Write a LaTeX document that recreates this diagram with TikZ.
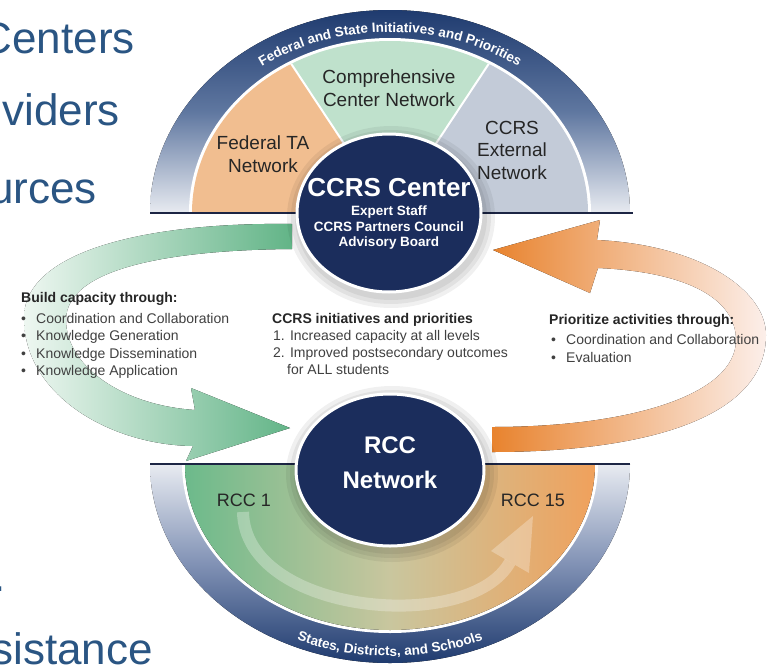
\documentclass[tikz,border=0pt]{standalone}
\usepackage{fontspec}
\setmainfont{Liberation Sans}
\usetikzlibrary{decorations.text}
\definecolor{navy}{HTML}{1B2D5C}
\definecolor{bandtop}{HTML}{1F3B6F}
\definecolor{bandmid}{HTML}{5F77A0}
\definecolor{bandmidb}{HTML}{8192B5}
\definecolor{bandlow}{HTML}{E8EBF1}
\definecolor{secorange}{HTML}{F1BE90}
\definecolor{secgreen}{HTML}{BFE1CC}
\definecolor{secgray}{HTML}{C3CBD8}
\definecolor{slideblue}{HTML}{2A5583}
\definecolor{linecol}{HTML}{1C2544}
\definecolor{arrgreen}{HTML}{62B487}
\definecolor{arrpalegreen}{HTML}{EEF7F1}
\definecolor{arrorange}{HTML}{E8832E}
\definecolor{arrpaleorange}{HTML}{FCEFEA}
\definecolor{rccgreen}{HTML}{6CBA8B}
\definecolor{rcckhaki}{HTML}{C9C69E}
\definecolor{rccorange}{HTML}{F0A15C}
\definecolor{txtdark}{HTML}{262626}
\definecolor{txtgray}{HTML}{404040}
\begin{document}
\begin{tikzpicture}[x=1pt,y=-1pt,
  slidetext/.style={text=slideblue, font=\fontsize{44}{44}\selectfont, inner sep=0pt, anchor=base east},
  seclabel/.style={text=txtdark, font=\fontsize{19}{22.5}\selectfont, align=center, inner sep=0pt},
  head/.style={text=txtdark, font=\bfseries\fontsize{14}{17}\selectfont, inner sep=0pt, anchor=base west},
  item/.style={text=txtgray, font=\fontsize{14}{17}\selectfont, inner sep=0pt, anchor=base west},
  hub/.style={fill=navy, draw=white, line width=3pt},
  hubtext/.style={text=white, inner sep=0pt, align=center},
  glow/.style={fill=black, opacity=0.06},
]
\useasboundingbox (0,0) rectangle (769,667);
\fill[white] (0,0) rectangle (769,667);

% slide text fragments
\node[slidetext] (s1) at (135,53) {Centers};
\node[slidetext] (s2) at (120,125) {viders};
\node[slidetext] (s3) at (97,203) {urces};
\node[slidetext, anchor=base west] (s5) at (-7,591) {.};
\node[slidetext] (s4) at (153,664) {sistance};

% big curved arrows
\fill[left color=arrpalegreen, right color=arrgreen]
  (292,224) .. controls (150,222) and (24,250) .. (24,318)
  .. controls (24,395) and (110,445) .. (193,446)
  -- (186,461) -- (290,428) -- (191,388) -- (195,410)
  .. controls (120,405) and (66,365) .. (66,320)
  .. controls (66,268) and (170,250) .. (292,249) -- cycle;
\fill[left color=arrorange, right color=arrpaleorange]
  (492,452) .. controls (640,452) and (766,420) .. (766,335)
  .. controls (766,290) and (700,245) .. (597,240)
  -- (600,220) -- (493,250) -- (590,293) -- (598,268)
  .. controls (690,272) and (736,300) .. (736,340)
  .. controls (736,395) and (630,427) .. (492,427) -- cycle;

% top half
\fill[top color=bandtop, bottom color=bandlow, middle color=bandmid]
  (150,213) arc[start angle=180, end angle=360, x radius=240, y radius=203] -- cycle;
\fill[white] (189,213) arc[start angle=180, end angle=360, x radius=201, y radius=175] -- cycle;
\begin{scope}
  \clip (192,213) arc[start angle=180, end angle=360, x radius=198, y radius=172] -- cycle;
  \fill[secorange] (390,213) -- (194,-83) -- (-10,-83) -- (-10,220) -- cycle;
  \fill[secgreen] (390,213) -- (194,-83) -- (586,-83) -- cycle;
  \fill[secgray] (390,213) -- (586,-83) -- (800,-83) -- (800,220) -- cycle;
  \draw[white, line width=2pt] (390,213) -- (194,-83) (390,213) -- (586,-83);
\end{scope}
\path[decorate, decoration={text along path, text align=center,
  text={|\bfseries\fontsize{13.5}{14}\selectfont\color{white}|Federal and State Initiatives and Priorities}}]
  (172,213) arc[start angle=180, end angle=360, x radius=218, y radius=181];
\draw[linecol, line width=2.5pt] (150,213) -- (633,213);

% bottom half
\fill[top color=bandlow, bottom color=bandtop, middle color=bandmidb]
  (150,464) arc[start angle=180, end angle=0, x radius=240, y radius=199] -- cycle;
\fill[white] (182,464) arc[start angle=180, end angle=0, x radius=208, y radius=169] -- cycle;
\fill[left color=rccgreen, right color=rccorange, middle color=rcckhaki]
  (185,464) arc[start angle=180, end angle=0, x radius=205, y radius=166] -- cycle;
\path[decorate, decoration={text along path, text align=center,
  text={|\bfseries\fontsize{13.5}{14}\selectfont\color{white}|States, Districts, and Schools}}]
  (158,464) arc[start angle=180, end angle=0, x radius=232, y radius=192];
\draw[linecol, line width=2.5pt] (150,464) -- (630,464);
\draw[white, opacity=0.28, line width=12pt] (243,512) .. controls (245,615) and (470,635) .. (510,562);
\fill[white, opacity=0.28] (533,516) -- (529,573) -- (491,551) -- cycle;

% hubs
\foreach \r in {12,8,4} {\fill[glow] (391,217) ellipse [x radius=92+\r, y radius=79+\r];}
\fill[hub] (389,213) ellipse [x radius=92, y radius=79];
\foreach \r in {12,8,4} {\fill[glow] (392,474) ellipse [x radius=94+\r, y radius=76+\r];}
\fill[hub] (390,470) ellipse [x radius=94, y radius=76];

% labels
\node[seclabel] (fedta) at (263,154) {Federal TA\\Network};
\node[seclabel] (ccn) at (389,88) {Comprehensive\\Center Network};
\node[seclabel] (ext) at (512,150) {CCRS\\External\\Network};
\node[hubtext, font=\bfseries\fontsize{26}{26}\selectfont] (ccrs) at (389,188) {CCRS Center};
\node[hubtext, font=\bfseries\fontsize{13.5}{15.5}\selectfont] (ccrssub) at (389,228) {Expert Staff\\CCRS Partners Council\\Advisory Board};
\node[hubtext, font=\bfseries\fontsize{24}{24}\selectfont] (rcc) at (390,445) {RCC};
\node[hubtext, font=\bfseries\fontsize{24}{24}\selectfont] (rccnet) at (390,480) {Network};
\node[seclabel, font=\fontsize{18}{18}\selectfont] (rcc1) at (244,500) {RCC 1};
\node[seclabel, font=\fontsize{18}{18}\selectfont] (rcc15) at (533,500) {RCC 15};

% text blocks
\node[head] (lh) at (21,302) {Build capacity through:};
\node[item] (l1) at (21,323) {\makebox[15pt][l]{•}Coordination and Collaboration};
\node[item] (l2) at (21,340.5) {\makebox[15pt][l]{•}Knowledge Generation};
\node[item] (l3) at (21,358) {\makebox[15pt][l]{•}Knowledge Dissemination};
\node[item] (l4) at (21,375.5) {\makebox[15pt][l]{•}Knowledge Application};

\node[head] (mh) at (272,323) {CCRS initiatives and priorities};
\node[item] (m1) at (273,340) {1. Increased capacity at all levels};
\node[item] (m2) at (273,357) {2. Improved postsecondary outcomes};
\node[item] (m3) at (287,374) {for ALL students};

\node[head] (rh) at (549,324) {Prioritize activities through:};
\node[item] (r1) at (551,344) {\makebox[15pt][l]{•}Coordination and Collaboration};
\node[item] (r2) at (551,362) {\makebox[15pt][l]{•}Evaluation};
\end{tikzpicture}
\end{document}
